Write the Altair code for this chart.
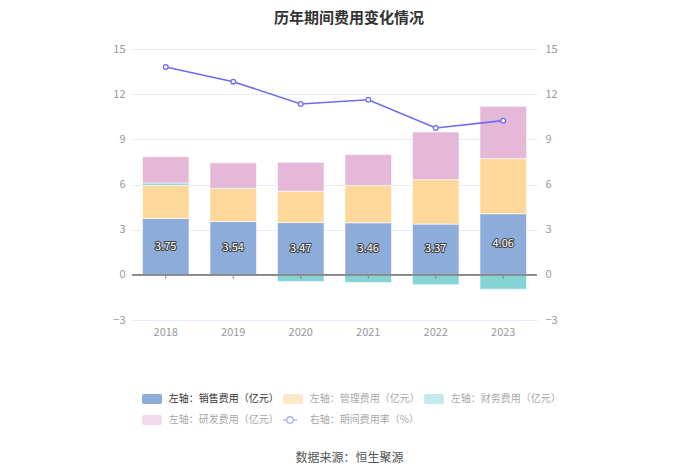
import altair as alt
import pandas as pd

FONT = "Noto Sans CJK SC"

years = ["2018", "2019", "2020", "2021", "2022", "2023"]
sales = [3.75, 3.54, 3.47, 3.46, 3.37, 4.06]
mgmt = [2.20, 2.19, 2.08, 2.47, 2.95, 3.66]
finance = [0.15, 0.01, -0.45, -0.51, -0.66, -0.95]
rnd = [1.75, 1.70, 1.92, 2.07, 3.17, 3.47]
rate = [13.80, 12.83, 11.35, 11.63, 9.75, 10.24]

s1 = "左轴：销售费用（亿元）"
s2 = "左轴：管理费用（亿元）"
s3 = "左轴：财务费用（亿元）"
s4 = "左轴：研发费用（亿元）"
s5 = "右轴：期间费用率（%）"
y_ticks = [-3, 0, 3, 6, 9, 12, 15]

bar_colors = ["#8EACD9", "#FED89A", "#84D4D6", "#E6B8D8"]
legend_colors = ["#8EACD9", "#FDE8C8", "#C4EAEB", "#F3DBED", "#FFFFFF"]
line_color = "#6C6CF0"

rows = []
for i, (name, vals) in enumerate([(s1, sales), (s2, mgmt), (s3, finance), (s4, rnd)]):
    for y, v in zip(years, vals):
        rows.append({"year": y, "series": name, "value": v, "order": i})
bar_df = pd.DataFrame(rows)
lab_df = pd.DataFrame({"year": years, "sales": sales})
rate_df = pd.DataFrame({"year": years, "rate": rate})
leg_df = pd.DataFrame({"series": [s1, s2, s3, s4, s5]})

x_enc = alt.X(
    "year:N",
    sort=years,
    scale=alt.Scale(paddingInner=0.31, paddingOuter=0.155),
    axis=alt.Axis(
        title="数据来源：恒生聚源", labelAngle=0, domain=False, ticks=False,
        labelPadding=6, labelFontSize=11, labelColor="#999999", labelFont=FONT,
        titleX=217, titleY=137, titleAlign="center", titleBaseline="middle",
        titleFontSize=12, titleFontWeight="normal", titleColor="#555555",
        titleFont=FONT, grid=False,
    ),
)

yscale = alt.Scale(domain=[-3, 15], nice=False, zero=False)
left_axis = alt.Axis(
    values=y_ticks, title=None, domain=False, ticks=False, labelPadding=7,
    gridColor="#E6EBF5", labelColor="#999999", labelFontSize=11, labelFont=FONT,
)
right_axis = alt.Axis(
    orient="right", values=y_ticks, title=None, domain=False, ticks=False,
    labelPadding=8, grid=False, labelColor="#999999", labelFontSize=11,
    labelFont=FONT,
)

bars = alt.Chart(bar_df).mark_bar(stroke="white", strokeWidth=0.6).encode(
    x=x_enc,
    y=alt.Y("value:Q", scale=yscale, axis=left_axis, stack="zero"),
    color=alt.Color(
        "series:N",
        scale=alt.Scale(domain=[s1, s2, s3, s4], range=bar_colors),
        legend=None,
    ),
    order=alt.Order("order:Q"),
)

zero_rule = alt.Chart(lab_df).mark_rule(color="#8A8A8A", strokeWidth=1).encode(
    y=alt.datum(0)
)

ticks = alt.Chart(lab_df).mark_rule(color="#8A8A8A", strokeWidth=1, y2Offset=4).encode(
    x=x_enc, y=alt.datum(0), y2=alt.datum(0)
)

labels_bg = alt.Chart(lab_df).transform_calculate(
    mid="datum.sales / 2"
).mark_text(
    font=FONT, fontSize=11, fill="#444444", stroke="#444444", strokeWidth=2.2,
    strokeJoin="round", baseline="middle",
).encode(x=x_enc, y=alt.Y("mid:Q"), text=alt.Text("sales:Q", format=".2f"))

labels_fg = alt.Chart(lab_df).transform_calculate(
    mid="datum.sales / 2"
).mark_text(
    font=FONT, fontSize=11, fill="white", baseline="middle",
).encode(x=x_enc, y=alt.Y("mid:Q"), text=alt.Text("sales:Q", format=".2f"))

left = alt.layer(bars, zero_rule, ticks, labels_bg, labels_fg)

line = alt.Chart(rate_df).mark_line(
    color=line_color, strokeWidth=1.6,
    point=alt.OverlayMarkDef(filled=True, fill="white", stroke=line_color,
                             strokeWidth=1.3, size=22, opacity=1),
).encode(x=x_enc, y=alt.Y("rate:Q", scale=yscale, axis=right_axis))

RECT_PATH = ("M-1.333,-0.833H1.333Q1.667,-0.833 1.667,-0.5V0.5Q1.667,0.833 1.333,0.833"
             "H-1.333Q-1.667,0.833 -1.667,0.5V-0.5Q-1.667,-0.833 -1.333,-0.833Z")
LINE_PATH = ("M-1.667,0H-1.05M0.05,0H0.667M-1.05,0A0.55,0.55 0 1,1 0.05,0"
             "A0.55,0.55 0 1,1 -1.05,0")

legend = alt.Legend(
    title=None, orient="none", legendX=13, legendY=343, direction="horizontal",
    columns=3, columnPadding=0, rowPadding=5, padding=0,
    symbolSize=144,
    symbolType={"expr": f"datum.label == '{s5}' ? '{LINE_PATH}' : '{RECT_PATH}'"},
    symbolStrokeColor={"expr": f"datum.label == '{s5}' ? '#B4B4F6' : 'transparent'"},
    symbolStrokeWidth=1.5,
    symbolOpacity=1,
    labelColor={"expr": f"datum.label == '{s1}' ? '#333333' : '#A8A8A8'"},
    labelFont=FONT, labelFontSize=10, labelOffset=9.7, labelLimit=220,
)

legend_layer = alt.Chart(leg_df).mark_point(filled=True, opacity=0).encode(
    fill=alt.Fill(
        "series:N",
        scale=alt.Scale(domain=[s1, s2, s3, s4, s5], range=legend_colors),
        legend=legend,
    )
)

chart = alt.layer(left, line, legend_layer).resolve_scale(
    y="independent"
).properties(
    width=405,
    height=271,
    padding={"left": 124, "top": 41, "right": 155, "bottom": 146},
    autosize=alt.AutoSizeParams(type="none"),
    title=alt.TitleParams(
        "历年期间费用变化情况", font=FONT, fontSize=15, fontWeight="bold",
        color="#333333", anchor="middle", dx=14.5, offset=17,
    ),
).configure_view(stroke=None)

chart.save("out.html", embed_options={"renderer": "svg", "actions": False})
